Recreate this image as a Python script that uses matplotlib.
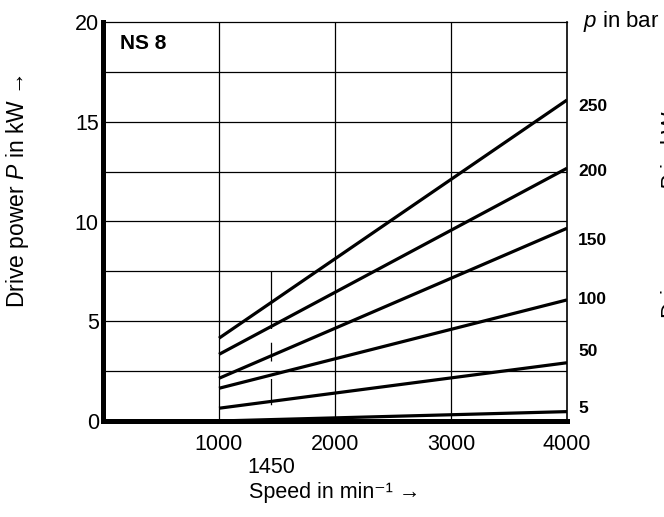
import numpy as np
import matplotlib.pyplot as plt

plt.rcParams['font.family'] = ['Liberation Sans', 'DejaVu Sans']
plt.rcParams['mathtext.fontset'] = 'custom'
plt.rcParams['mathtext.rm'] = 'Liberation Sans'
plt.rcParams['mathtext.it'] = 'Liberation Sans:italic'

# drive power curves, straight lines from 1000 to 4000 min^-1
speed = [1000, 4000]
pressure = [5, 50, 100, 150, 200, 250]
power_1000 = [0.0, 0.64, 1.64, 2.14, 3.34, 4.15]
power_4000 = [0.47, 2.92, 6.07, 9.66, 12.67, 16.09]
label_shift = [2.5, 8, 0, -9, -2, -5]   # points, vertical nudge of the bar labels

x_ticks = [1000, 2000, 3000, 4000]
y_ticks = [0, 5, 10, 15, 20]
nominal_speed = 1450

fig = plt.figure(figsize=(6.64, 5.17), dpi=100)
ax = fig.add_axes([103 / 664, 96 / 517, 464 / 664, 399 / 517])
ax.set_xlim(0, 4000)
ax.set_ylim(0, 20)

# grid: every 1000 min^-1 (from 1000) and every 2.5 kW
for xv in x_ticks[:-1]:
    ax.axvline(xv, color='black', lw=0.9, zorder=1)
for yv in np.arange(2.5, 20, 2.5):
    ax.axhline(yv, color='black', lw=0.9, zorder=1)

# marker line at nominal speed
ax.plot([nominal_speed, nominal_speed], [7.5, 0], color='black', lw=0.9,
        dashes=(46, 11, 15, 14, 21, 14), zorder=1)

for p, a, b, dy in zip(pressure, power_1000, power_4000, label_shift):
    ax.plot(speed, [a, b], color='black', lw=2.3, solid_capstyle='butt', zorder=3)
    ax.annotate(str(p), xy=(4000, b), xytext=(8, dy), textcoords='offset points',
                ha='left', va='center', fontsize=12.5, fontweight='bold',
                annotation_clip=False)

for side in ['left', 'bottom']:
    ax.spines[side].set_linewidth(3.6)
ax.spines['right'].set_linewidth(1.2)
ax.spines['top'].set_linewidth(0.9)

ax.set_xticks(x_ticks)
ax.set_yticks(y_ticks)
ax.tick_params(length=0, labelsize=15.5, pad=9)
ax.tick_params(axis='y', pad=3)

ax.text(nominal_speed, -2.35, str(nominal_speed), ha='center', va='center', fontsize=15.5)
ax.text(2000, -3.6, 'Speed in min\u207b\u00b9 \u2192', ha='center', va='center', fontsize=15.5)
ax.text(-733, 11.5, 'Drive power $\\mathit{P}$ in kW \u2192', rotation=90,
        ha='center', va='center', fontsize=16.5)

ax.text(150, 18.9, 'NS 8', fontsize=15, fontweight='bold', ha='left', va='center')
ax.text(4140, 20, '$\\mathit{p}$ in bar', fontsize=16, ha='left', va='center')

# neighbouring panel label, cut off at the edge
fig.text(1.013, 0.585, 'Drive power $\\mathit{P}$ in kW', rotation=90, ha='center',
         va='center', fontsize=16.5)

fig.savefig('out.png', dpi=100)
